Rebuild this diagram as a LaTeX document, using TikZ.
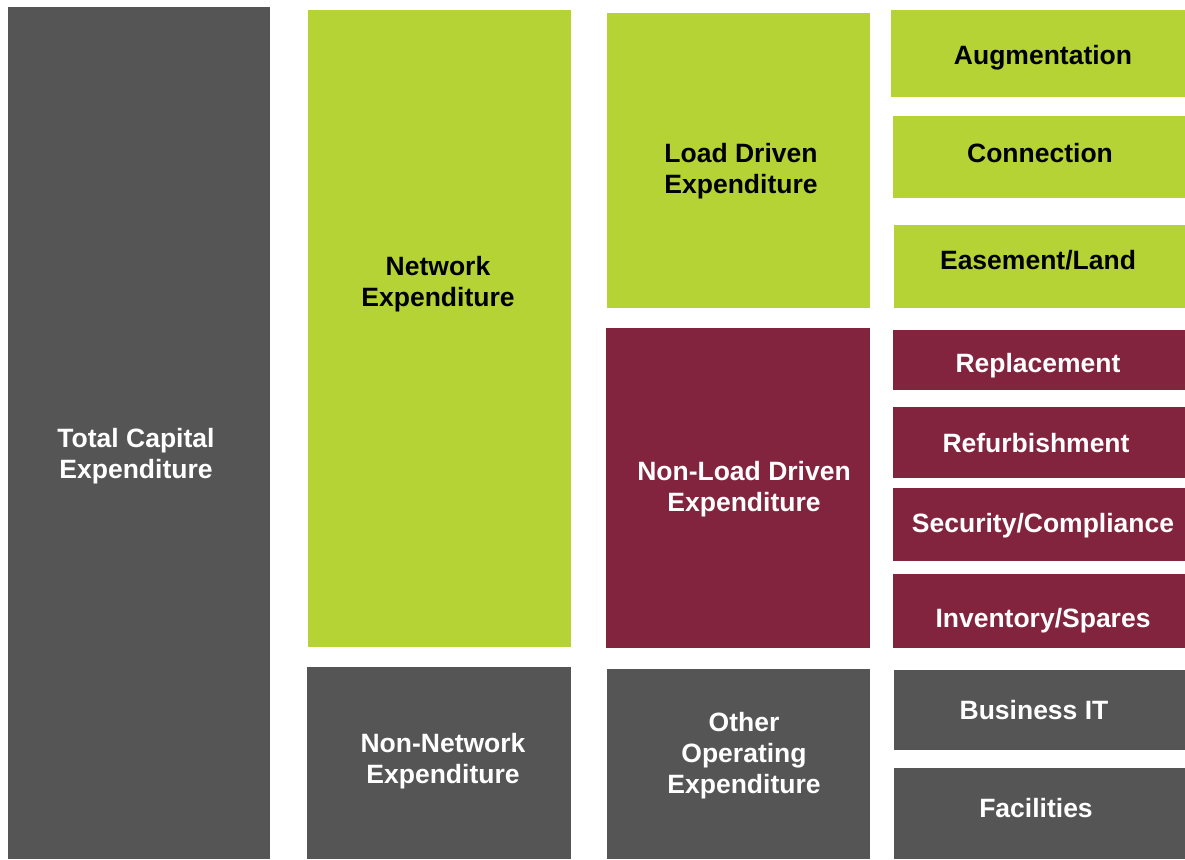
\documentclass[tikz,border=0pt]{standalone}
\usepackage{fontspec}
\setmainfont{Liberation Sans}
\definecolor{capgrey}{HTML}{555555}
\definecolor{capgreen}{HTML}{B5D334}
\definecolor{capred}{HTML}{83243E}
\tikzset{sz/.style 2 args={minimum width=#1pt,minimum height=#2pt}}

\begin{document}
\begin{tikzpicture}[x=1pt,y=-1pt,inner sep=0pt,
                    font=\fontsize{26.5}{31}\selectfont\bfseries]
\tikzstyle{blk}=[rectangle,anchor=north west]
\tikzstyle{dbox}=[blk,fill=capgrey]
\tikzstyle{gbox}=[blk,fill=capgreen]
\tikzstyle{rbox}=[blk,fill=capred]
\tikzstyle{wtxt}=[text=white,align=center]
\tikzstyle{btxt}=[text=black,align=center]
\useasboundingbox (0,0) rectangle (1185,859);
% blocks
\node[dbox,sz={262}{852}] (total) at (8,7) {};
\node[gbox,sz={263}{637}] (network) at (308,10) {};
\node[dbox,sz={264}{192}] (nonnet) at (307,667) {};
\node[gbox,sz={263}{295}] (loaddrv) at (607,13) {};
\node[rbox,sz={264}{320}] (nonload) at (606,328) {};
\node[dbox,sz={263}{190}] (otherop) at (607,669) {};
\node[gbox,sz={294}{87}] (augm) at (891,10) {};
\node[gbox,sz={292}{82}] (conn) at (893,116) {};
\node[gbox,sz={291}{83}] (easem) at (894,225) {};
\node[rbox,sz={292}{60}] (repl) at (893,330) {};
\node[rbox,sz={292}{71}] (refurb) at (893,407) {};
\node[rbox,sz={292}{73}] (secur) at (893,488) {};
\node[rbox,sz={292}{74}] (inven) at (893,574) {};
\node[dbox,sz={291}{80}] (busit) at (894,670) {};
\node[dbox,sz={291}{91}] (facil) at (894,768) {};
% labels
\node[wtxt] (totalt) at (136,456) {Total Capital\\Expenditure};
\node[btxt] (networkt) at (438,284.5) {Network\\Expenditure};
\node[wtxt] (nonnett) at (443,761) {Non-Network\\Expenditure};
\node[btxt] (loaddrvt) at (741,171.5) {Load Driven\\Expenditure};
\node[wtxt] (nonloadt) at (744,489) {Non-Load Driven\\Expenditure};
\node[wtxt] (otheropt) at (744,756) {Other\\Operating\\Expenditure};
\node[btxt] (augmt) at (1043,58) {Augmentation};
\node[btxt] (connt) at (1040,153) {Connection};
\node[btxt] (easemt) at (1038,260) {Easement/Land};
\node[wtxt] (replt) at (1038,366) {Replacement};
\node[wtxt] (refurbt) at (1036,443) {Refurbishment};
\node[wtxt] (secut) at (1043,526) {Security/Compliance};
\node[wtxt] (invent) at (1043,621) {Inventory/Spares};
\node[wtxt] (busitt) at (1034,710) {Business IT};
\node[wtxt] (facilt) at (1036,808) {Facilities};
\end{tikzpicture}
\end{document}
